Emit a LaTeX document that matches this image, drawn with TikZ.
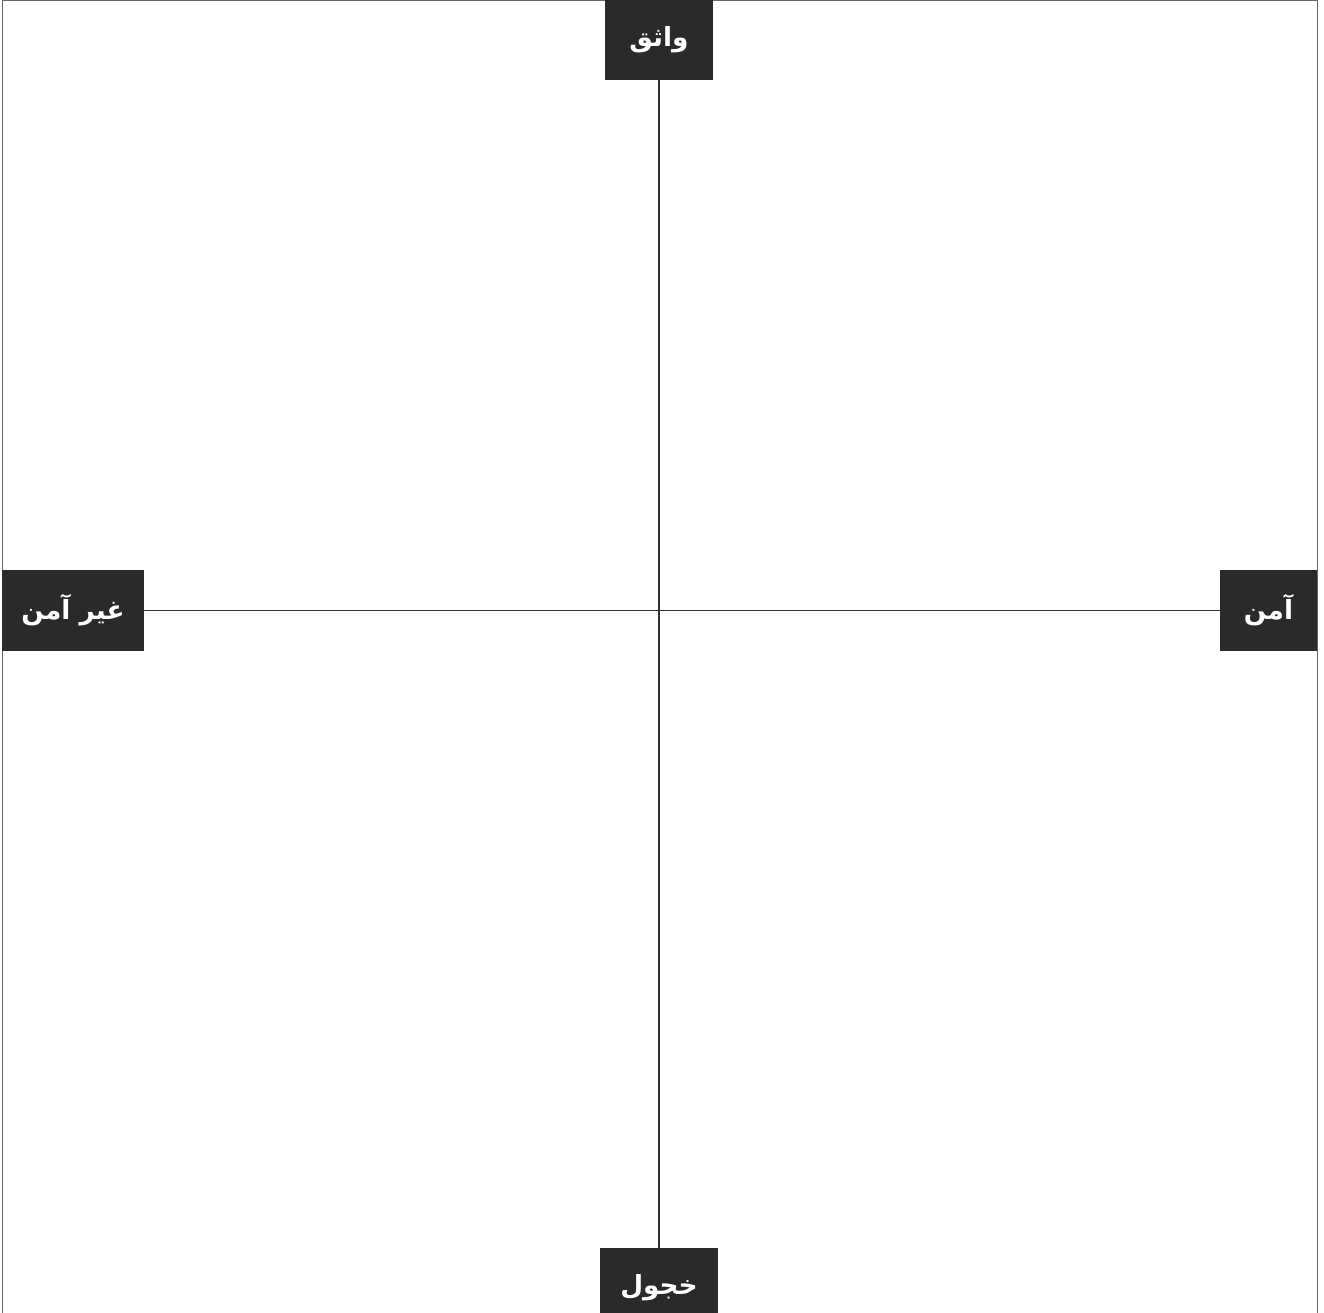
\documentclass[tikz,border=0pt]{standalone}
\usepackage{fontspec}
\newfontfamily\arabicfont[Script=Arabic]{DejaVu Sans}
\TeXXeTstate=1
\definecolor{boxfill}{HTML}{2B2A28}
\definecolor{axisgray}{HTML}{333333}
\tikzset{
  pole/.style={fill=boxfill, text=white, inner sep=0pt,
    font=\arabicfont\bfseries\fontsize{15}{18}\selectfont},
  axis/.style={axisgray, line width=0.9pt}
}

\begin{document}
\begin{tikzpicture}
  \useasboundingbox (0,0) rectangle (26.48,-26.24);

  % Draw the frame
  \draw[black!60, line width=1.1pt] (0.05,-27) -- (0.05,-0.01) -- (26.35,-0.01) -- (26.35,-27);

  % Draw the pole boxes
  \node[pole, minimum width=2.16cm, minimum height=1.6cm] (confident) at (13.18,-0.8) {\beginR واثق\endR};
  \node[pole, minimum width=2.36cm, minimum height=1.6cm] (shy) at (13.18,-25.76) {\beginR خجول\endR};
  \node[pole, minimum width=2.84cm, minimum height=1.62cm] (insecure) at (1.46,-12.21) {\beginR غير آمن\endR};
  \node[pole, minimum width=1.94cm, minimum height=1.62cm] (secure) at (25.37,-12.21) {\beginR آمن\endR};

  % Draw the axes
  \draw[axis] (confident) -- (shy);
  \draw[axis] (insecure) -- (secure);

\end{tikzpicture}
\end{document}
